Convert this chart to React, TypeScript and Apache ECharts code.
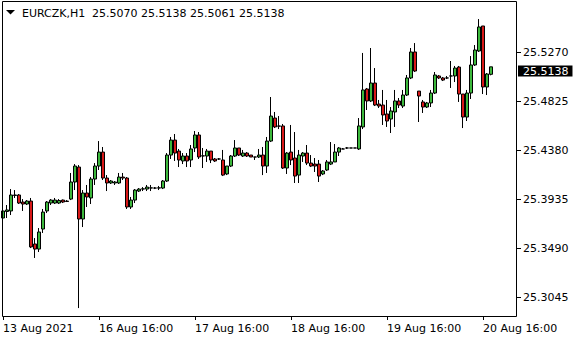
import React, { useEffect, useRef } from "react";
import * as echarts from "echarts";

const symbolName = "EURCZK,H1";

const opens = [
  25.3765, 25.3824, 25.3829, 25.397, 25.3974, 25.391, 25.3892, 25.3919, 25.3529, 25.3483,
  25.3665, 25.3829, 25.3901, 25.3901, 25.3901, 25.3928, 25.3919, 25.3937, 25.4092, 25.4228,
  25.3756, 25.3992, 25.3947, 25.4119, 25.4237, 25.4364, 25.4128, 25.4083, 25.4083, 25.4083,
  25.4137, 25.4128, 25.3865, 25.3928, 25.401, 25.4028, 25.4028, 25.4037, 25.4037, 25.4037,
  25.4037, 25.4101, 25.4337, 25.4473, 25.4373, 25.4283, 25.4328, 25.4292, 25.4401, 25.4519,
  25.4328, 25.4328, 25.4373, 25.4301, 25.4301, 25.4292, 25.4165, 25.4237, 25.4328, 25.4401,
  25.4328, 25.4355, 25.4337, 25.4319, 25.4319, 25.4337, 25.4237, 25.4464, 25.4673, 25.4601,
  25.4601, 25.4219, 25.4364, 25.431, 25.4155, 25.4328, 25.4355, 25.4264, 25.4255, 25.4255,
  25.4165, 25.4201, 25.4255, 25.4274, 25.4364, 25.4392, 25.4401, 25.4401, 25.4401, 25.4392,
  25.4592, 25.4937, 25.4828, 25.4991, 25.48, 25.4791, 25.471, 25.4664, 25.4728, 25.4828,
  25.4782, 25.4882, 25.5037, 25.5273, 25.4918, 25.4819, 25.4773, 25.481, 25.49, 25.5055,
  25.5037, 25.5037, 25.5055, 25.5055, 25.5136, 25.4891, 25.4682, 25.49, 25.5155, 25.5282,
  25.5509, 25.4955, 25.507,
];

const closes = [
  25.3829, 25.3838, 25.3974, 25.3974, 25.3901, 25.3892, 25.3919, 25.3502, 25.3483, 25.3638,
  25.3819, 25.391, 25.3928, 25.3928, 25.3924, 25.391, 25.3915, 25.4092, 25.4237, 25.3756,
  25.3992, 25.3956, 25.4119, 25.4237, 25.4364, 25.4128, 25.4083, 25.4101, 25.4092, 25.4137,
  25.4128, 25.3865, 25.3928, 25.4019, 25.4028, 25.403, 25.4046, 25.4039, 25.4037, 25.4039,
  25.4101, 25.4337, 25.4473, 25.4355, 25.4292, 25.4328, 25.4283, 25.4392, 25.4519, 25.4319,
  25.433, 25.4373, 25.4292, 25.4283, 25.4301, 25.4155, 25.4237, 25.4328, 25.4401, 25.4337,
  25.4355, 25.4328, 25.4319, 25.4319, 25.4337, 25.4237, 25.4464, 25.4691, 25.4592, 25.4599,
  25.4219, 25.4355, 25.4292, 25.4146, 25.4337, 25.4355, 25.4264, 25.4237, 25.4237, 25.4146,
  25.4192, 25.4274, 25.4274, 25.4364, 25.4401, 25.4392, 25.4401, 25.4401, 25.4401, 25.4601,
  25.4928, 25.4828, 25.4991, 25.4791, 25.4782, 25.4701, 25.4646, 25.4737, 25.4828, 25.4791,
  25.4882, 25.5037, 25.5273, 25.51, 25.4873, 25.4773, 25.481, 25.49, 25.5064, 25.5037,
  25.5018, 25.5037, 25.5055, 25.5127, 25.4891, 25.4682, 25.49, 25.5155, 25.5291, 25.55,
  25.4955, 25.5073, 25.5138,
];

const lows = [
  25.371, 25.3765, 25.3792, 25.3947, 25.3892, 25.3829, 25.3883, 25.3492, 25.3402, 25.3456,
  25.3629, 25.381, 25.3883, 25.3892, 25.3892, 25.3901, 25.391, 25.3928, 25.4019, 25.2947,
  25.3683, 25.3865, 25.3892, 25.4065, 25.4201, 25.411, 25.401, 25.4074, 25.4065, 25.4074,
  25.411, 25.3847, 25.3847, 25.3901, 25.4001, 25.401, 25.401, 25.401, 25.4028, 25.4019,
  25.4028, 25.4092, 25.4301, 25.4283, 25.4228, 25.4255, 25.4228, 25.4228, 25.4364, 25.4301,
  25.4219, 25.4274, 25.4264, 25.4274, 25.4292, 25.4146, 25.4155, 25.4228, 25.4319, 25.4328,
  25.4319, 25.4319, 25.4319, 25.4292, 25.431, 25.4155, 25.4174, 25.4455, 25.4582, 25.4573,
  25.421, 25.4165, 25.4246, 25.4083, 25.4083, 25.4274, 25.4246, 25.4228, 25.4183, 25.4092,
  25.4155, 25.4192, 25.4246, 25.4274, 25.4328, 25.4392, 25.4392, 25.4401, 25.4401, 25.4383,
  25.4573, 25.4746, 25.4819, 25.4782, 25.4764, 25.461, 25.4592, 25.4537, 25.4592, 25.4764,
  25.4764, 25.4873, 25.5027, 25.5091, 25.4637, 25.4719, 25.4764, 25.4773, 25.4891, 25.5027,
  25.5009, 25.5027, 25.4946, 25.5, 25.4819, 25.4582, 25.4646, 25.4846, 25.5146, 25.5273,
  25.4891, 25.4882, 25.5061,
];

const highs = [
  25.3928, 25.3883, 25.4028, 25.4019, 25.3983, 25.3937, 25.3928, 25.3947, 25.3583, 25.3674,
  25.3847, 25.3919, 25.3937, 25.3947, 25.3937, 25.3933, 25.3928, 25.4174, 25.4255, 25.4246,
  25.4019, 25.4065, 25.4137, 25.4264, 25.4464, 25.441, 25.4155, 25.411, 25.4101, 25.4174,
  25.4174, 25.4137, 25.3956, 25.4028, 25.4037, 25.4046, 25.4065, 25.4065, 25.4046, 25.4056,
  25.411, 25.4355, 25.4501, 25.4528, 25.4392, 25.4355, 25.4355, 25.4428, 25.4555, 25.4546,
  25.4401, 25.4392, 25.4373, 25.431, 25.431, 25.4383, 25.4237, 25.4337, 25.4473, 25.4401,
  25.4383, 25.4364, 25.4337, 25.4319, 25.4392, 25.441, 25.4501, 25.4864, 25.4728, 25.4691,
  25.4619, 25.4364, 25.461, 25.4546, 25.4383, 25.4364, 25.4428, 25.4337, 25.431, 25.4292,
  25.4201, 25.4292, 25.4455, 25.4437, 25.441, 25.4401, 25.441, 25.4401, 25.4401, 25.4673,
  25.5264, 25.4946, 25.5309, 25.5127, 25.4837, 25.4928, 25.4837, 25.4773, 25.4928, 25.4855,
  25.4928, 25.5064, 25.5309, 25.5354, 25.4918, 25.4837, 25.4819, 25.4928, 25.5091, 25.5064,
  25.5046, 25.5055, 25.5191, 25.5146, 25.5146, 25.4891, 25.4928, 25.5236, 25.5336, 25.5572,
  25.5509, 25.5082, 25.5138,
];

const xTickIndex = [0, 24, 48, 72, 96, 120];
const xTickLabels = [
  "13 Aug 2021",
  "16 Aug 16:00",
  "17 Aug 16:00",
  "18 Aug 16:00",
  "19 Aug 16:00",
  "20 Aug 16:00",
];
const yTicks = [25.3045, 25.349, 25.3935, 25.438, 25.4825, 25.527];
const slotCount = 129;

const FONT = "DejaVu Sans";

export default function App() {
  const ref = useRef<HTMLDivElement>(null);

  useEffect(() => {
    if (!ref.current) return;
    const chart = echarts.init(ref.current, undefined, { renderer: "svg" });

    const categories = Array.from({ length: slotCount }, (_, i) => {
      const k = xTickIndex.indexOf(i);
      return k >= 0 ? xTickLabels[k] : "";
    });
    const candles = opens.map((o, i) => [o, closes[i], lows[i], highs[i]]);
    const last = opens.length - 1;
    const fmt = (v: number) => v.toFixed(4);
    const showIdx = (idx: number) => xTickIndex.indexOf(idx) >= 0;

    chart.setOption({
      animation: false,
      backgroundColor: "#ffffff",
      textStyle: { fontFamily: FONT },
      grid: { left: 1, top: 1, width: 516, height: 315, show: false },
      xAxis: {
        type: "category",
        data: categories,
        boundaryGap: true,
        axisLine: { show: false },
        axisTick: {
          show: true,
          alignWithLabel: true,
          interval: (idx: number) => showIdx(idx),
          length: 4,
          lineStyle: { color: "#000", width: 1 },
        },
        axisLabel: {
          interval: (idx: number) => showIdx(idx),
          align: "left",
          margin: 7,
          color: "#000",
          fontFamily: FONT,
          fontSize: 11,
        },
        splitLine: { show: false },
      },
      yAxis: {
        type: "value",
        position: "right",
        min: 25.2875,
        max: 25.5736,
        scale: true,
        axisLine: { show: false },
        splitLine: { show: false },
        axisTick: {
          show: true,
          length: 4,
          customValues: yTicks,
          lineStyle: { color: "#000", width: 1 },
        },
        axisLabel: {
          customValues: yTicks,
          formatter: (v: number) => fmt(v),
          margin: 6,
          color: "#000",
          fontFamily: FONT,
          fontSize: 11,
        },
      },
      graphic: [
        {
          type: "rect",
          silent: true,
          z: 100,
          shape: { x: 2.5, y: 1.5, width: 514, height: 315 },
          style: { fill: "none", stroke: "#000", lineWidth: 1 },
        },
        {
          type: "polygon",
          silent: true,
          z: 100,
          shape: { points: [[6, 10], [15, 10], [10.5, 14.5]] },
          style: { fill: "#000" },
        },
        {
          type: "text",
          silent: true,
          z: 100,
          x: 22,
          y: 13,
          style: {
            text: symbolName,
            font: `11px "${FONT}"`,
            fill: "#000",
            verticalAlign: "middle",
          },
        },
        {
          type: "text",
          silent: true,
          z: 100,
          x: 92,
          y: 13,
          style: {
            text: [opens[last], highs[last], lows[last], closes[last]].map(fmt).join(" "),
            font: `11px "${FONT}"`,
            fill: "#000",
            verticalAlign: "middle",
          },
        },
      ],
      series: [
        {
          type: "candlestick",
          data: candles,
          barWidth: 3,
          clip: false,
          itemStyle: {
            color: "#3cb83c",
            color0: "#d81818",
            borderColor: "#000",
            borderColor0: "#000",
            borderColorDoji: "#000",
            borderWidth: 1,
          },
          markLine: {
            silent: true,
            symbol: ["none", "none"],
            lineStyle: { color: "#000", opacity: 0 },
            data: [{ yAxis: closes[last] }],
            label: {
              show: true,
              position: "end",
              distance: 1,
              formatter: () => fmt(closes[last]),
              backgroundColor: "#000",
              color: "#fff",
              opacity: 1,
              fontFamily: FONT,
              fontSize: 11,
              lineHeight: 11,
              padding: [0, 4, 0, 5],
            },
          },
        },
      ],
    });

    return () => chart.dispose();
  }, []);

  return (
    <div
      ref={ref}
      style={{ position: "absolute", left: 0, top: 0, width: 580, height: 340 }}
    />
  );
}
